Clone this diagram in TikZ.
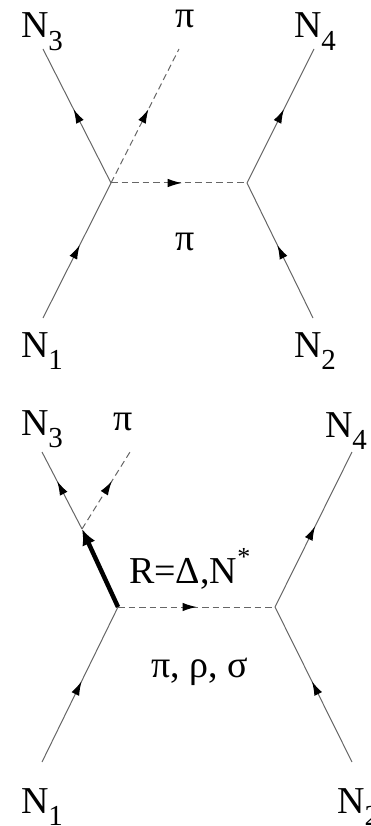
\documentclass[tikz,border=0pt]{standalone}
\usepackage{fontspec}
\setmainfont{Liberation Serif}
\usetikzlibrary{arrows.meta,decorations.markings}
\newcommand{\lsub}[1]{\raisebox{-0.34em}{\fontsize{29}{29}\selectfont #1}}
\newcommand{\lsup}[1]{\raisebox{0.45em}{\fontsize{26}{26}\selectfont #1}}

\begin{document}
\begin{tikzpicture}[
  x=1pt,y=-1pt,
  lab/.style={font=\fontsize{38}{40}\selectfont,inner sep=0pt,anchor=base},
  fermion/.style={draw=black!60,line width=1pt,postaction={decorate},
    decoration={markings,mark=at position #1 with {\arrow[black]{Latex[length=14pt,width=8.5pt]}}}},
  fermion/.default=0.5,
  meson/.style={fermion=#1,dash pattern=on 6.5pt off 4pt},
  meson/.default=0.5,
  resonance/.style={line width=4.5pt,-{Latex[length=16pt,width=14pt]}}
]
  \useasboundingbox (0,0) rectangle (371,826);

  % upper graph: pion exchange
  \coordinate (va) at (111,183);
  \coordinate (vb) at (247,183);
  \coordinate (t3) at (43,49);
  \coordinate (tp) at (179,49);
  \coordinate (t4) at (314,49);
  \coordinate (t1) at (43,318);
  \coordinate (t2) at (313,318);

  \node[lab] (n3a) at (42,38) {N\lsub{3}};
  \node[lab] (pia) at (185,28) {π};
  \node[lab] (n4a) at (315,38) {N\lsub{4}};
  \node[lab] (xa) at (185,250) {π};
  \node[lab] (n1a) at (42,357) {N\lsub{1}};
  \node[lab] (n2a) at (315,357) {N\lsub{2}};

  \draw[fermion=0.54] (t1) -- (va);
  \draw[fermion=0.55] (va) -- (t3);
  \draw[meson=0.55] (va) -- (tp);
  \draw[meson=0.52] (va) -- (vb);
  \draw[fermion=0.54] (t2) -- (vb);
  \draw[fermion=0.55] (vb) -- (t4);

  % lower graph: resonance excitation
  \coordinate (vc) at (118,607);
  \coordinate (vd) at (275,607);
  \coordinate (vr) at (82,529);
  \coordinate (s3) at (42,452);
  \coordinate (sp) at (130,452);
  \coordinate (s4) at (352,452);
  \coordinate (s1) at (42,762);
  \coordinate (s2) at (352,762);

  \node[lab] (n3b) at (42,435) {N\lsub{3}};
  \node[lab] (pib) at (123,430) {π};
  \node[lab] (n4b) at (346,437) {N\lsub{4}};
  \node[lab,anchor=base west] (res) at (129,583) {R=Δ,N\lsup{*}};
  \node[lab] (xb) at (200,677) {π, ρ, σ};
  \node[lab] (n1b) at (42,813) {N\lsub{1}};
  \node[lab,anchor=base west] (n2b) at (337,813) {N\lsub{2}};

  \draw[fermion=0.52] (s1) -- (vc);
  \draw[resonance] (vc) -- (vr);
  \draw[fermion=0.62] (vr) -- (s3);
  \draw[meson=0.62] (vr) -- (sp);
  \draw[meson=0.5] (vc) -- (vd);
  \draw[fermion=0.52] (s2) -- (vd);
  \draw[fermion=0.52] (vd) -- (s4);
\end{tikzpicture}
\end{document}
